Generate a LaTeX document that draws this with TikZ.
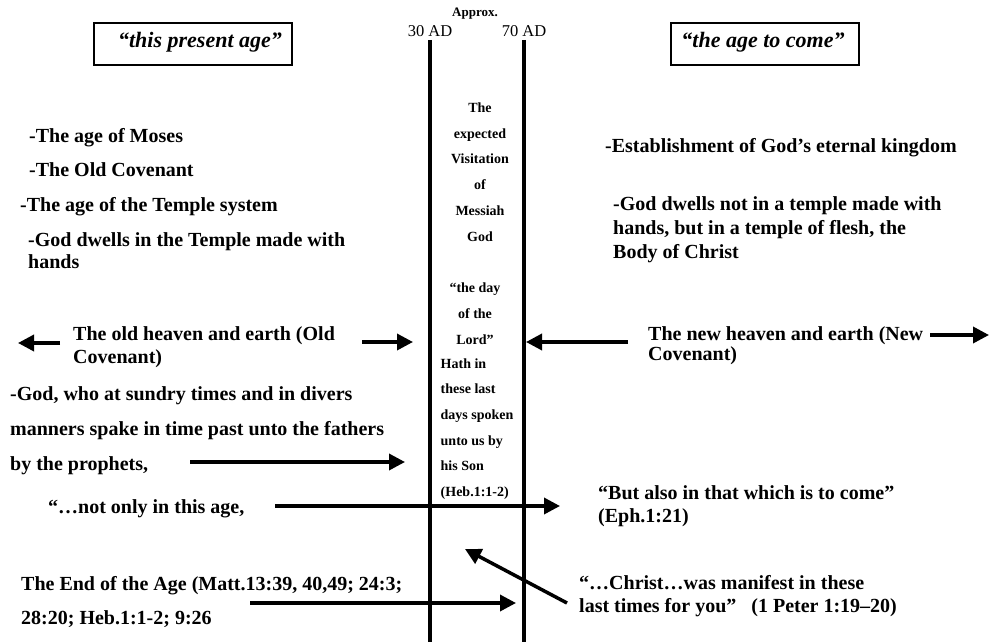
\documentclass[tikz,border=0pt]{standalone}
\usepackage{fontspec}
\setmainfont{Liberation Serif}
\usetikzlibrary{arrows.meta}
\begin{document}
\begin{tikzpicture}[x=1pt,y=-1pt,
  txt/.style={font=\fontsize{20}{22}\selectfont\bfseries, inner sep=0pt, anchor=base west, align=left},
  col/.style={font=\fontsize{14}{25.7}\selectfont\bfseries, inner sep=0pt, anchor=base, align=center},
  arr/.style={line width=3.5pt, -{Triangle[length=16pt,width=16pt]}},
  vline/.style={line width=4pt},
  agetxt/.style={inner sep=0pt, anchor=base, font=\fontsize{22}{24}\selectfont\bfseries\itshape}]
\useasboundingbox (0,0) rectangle (989,642);
% vertical lines
\coordinate (Ltop) at (429.5,40); \coordinate (Lbot) at (429.5,642);
\coordinate (Rtop) at (524,40);   \coordinate (Rbot) at (524,642);
\draw[vline] (Ltop) -- (Lbot);
\draw[vline] (Rtop) -- (Rbot);
% header
\node[inner sep=0pt, anchor=base, font=\fontsize{13}{15}\selectfont\bfseries] (approx) at (475,16.7) {Approx.};
\node[inner sep=0pt, anchor=base, font=\fontsize{16.5}{18}\selectfont] (ad30) at (430,36.7) {30 AD};
\node[inner sep=0pt, anchor=base, font=\fontsize{16.5}{18}\selectfont] (ad70) at (524,36.7) {70 AD};
% boxes
\draw[line width=2pt] (94,23) rectangle (292,65);
\draw[line width=2pt] (671,23) rectangle (859,65);
\node[agetxt] (present) at (200,48) {“this present age”};
\node[agetxt] (tocome) at (763,48) {“the age to come”};
% center column (anchor base = last line)
\node[col] (c1) at (480,241) {The\\expected\\Visitation\\of\\Messiah\\God};
\node[col] (c2) at (475,344) {“the day\\of the\\Lord”};
\node[col, anchor=base west, align=left] (c3) at (440.5,496.5) {Hath in\\these last\\days spoken\\unto us by\\his Son\\(Heb.1:1-2)};
% left texts
\node[txt] (l1) at (29,142.5) {-The age of Moses};
\node[txt] (l2) at (29,176.5) {-The Old Covenant};
\node[txt] (l3) at (20,211) {-The age of the Temple system};
\node[txt] (l4) at (28,268) {-God dwells in the Temple made with\\hands};
\node[txt, font=\fontsize{20}{23}\selectfont\bfseries] (oldhe) at (73,363) {The old heaven and earth (Old\\Covenant)};
\node[txt, font=\fontsize{20}{35}\selectfont\bfseries] (god) at (10,470) {-God, who at sundry times and in divers\\manners spake in time past unto the fathers\\by the prophets,};
\node[txt] (notonly) at (48,513) {“…not only in this age,};
\node[txt, font=\fontsize{20}{34}\selectfont\bfseries] (endage) at (21,624) {The End of the Age (Matt.13:39, 40,49; 24:3;\\28:20; Heb.1:1-2; 9:26};
% right texts
\node[txt] (r1) at (605,152) {-Establishment of God’s eternal kingdom};
\node[txt, font=\fontsize{20}{24}\selectfont\bfseries] (r2) at (613,258) {-God dwells not in a temple made with\\hands, but in a temple of flesh, the\\Body of Christ};
\node[txt, font=\fontsize{20}{18}\selectfont\bfseries] (newhe) at (648,360) {The new heaven and earth (New\\Covenant)};
\node[txt, font=\fontsize{20}{23}\selectfont\bfseries] (butalso) at (598,522) {“But also in that which is to come”\\(Eph.1:21)};
\node[txt, font=\fontsize{20}{23}\selectfont\bfseries] (christ) at (579,612) {“…Christ…was manifest in these\\last times for you”\ \ \ (1 Peter 1:19–20)};
% arrow end points
\coordinate (a1s) at (60,343);  \coordinate (a1e) at (18,343);
\coordinate (a2s) at (362,342); \coordinate (a2e) at (413,342);
\coordinate (a3s) at (190,462); \coordinate (a3e) at (405,462);
\coordinate (a4s) at (275,506); \coordinate (a4e) at (560,506);
\coordinate (a5s) at (628,342); \coordinate (a5e) at (526,342);
\coordinate (a6s) at (930,335); \coordinate (a6e) at (989,335);
\coordinate (a7s) at (250,603); \coordinate (a7e) at (516,603);
\coordinate (a8s) at (567,603); \coordinate (a8e) at (465,549);
\draw[arr] (a1s) -- (a1e);
\draw[arr] (a2s) -- (a2e);
\draw[arr] (a3s) -- (a3e);
\draw[arr] (a4s) -- (a4e);
\draw[arr] (a5s) -- (a5e);
\draw[arr] (a6s) -- (a6e);
\draw[arr] (a7s) -- (a7e);
\draw[arr] (a8s) -- (a8e);
\end{tikzpicture}
\end{document}
